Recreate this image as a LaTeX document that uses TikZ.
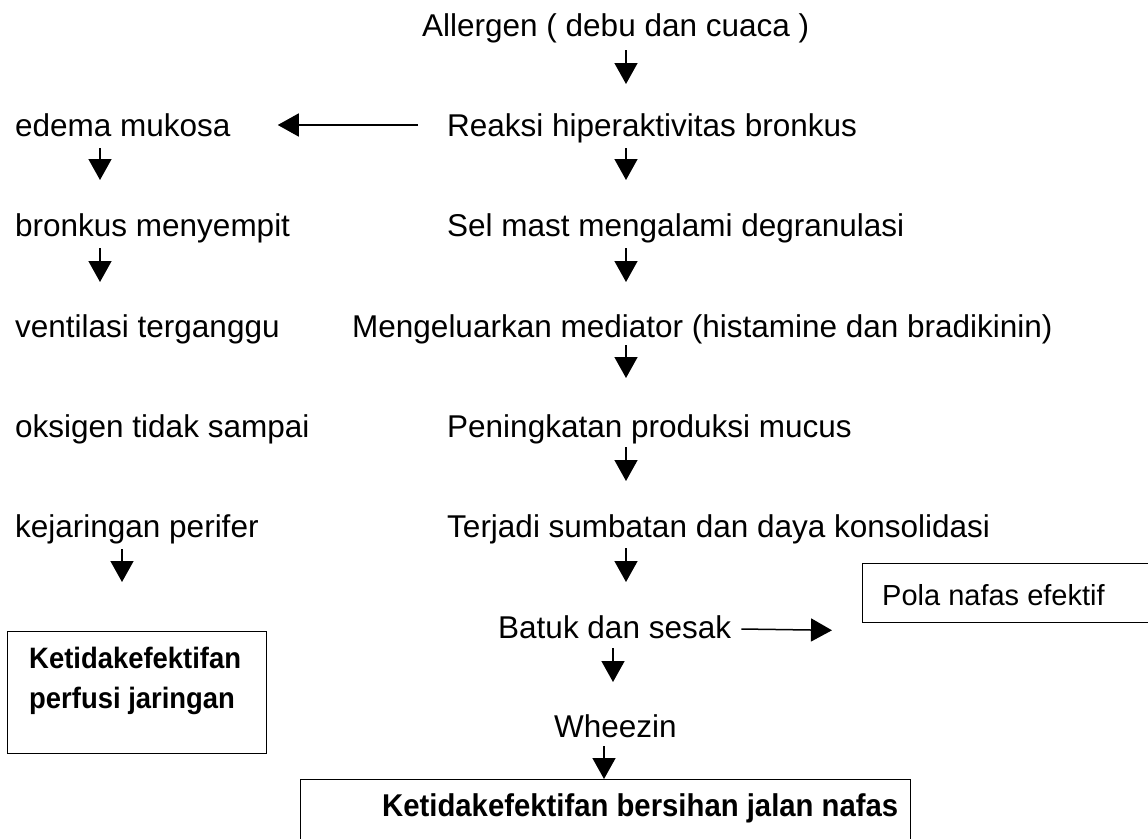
\documentclass[tikz,border=0pt]{standalone}
\usepackage{fontspec}
\setmainfont{Liberation Sans}
\newfontfamily\medfont[FakeStretch=0.93]{Liberation Sans Bold}
\usetikzlibrary{arrows.meta}
\tikzset{
  txt/.style={anchor=base west, inner sep=0pt, font=\fontsize{31.5}{40}\selectfont},
  btxt/.style={anchor=base west, inner sep=0pt, font=\medfont\fontsize{31.5}{40}\selectfont},
  frame/.style={draw, line width=1.3pt, inner sep=0pt},
  arr/.style={line width=1.5pt, -{Triangle[length=21pt, width=23pt]}}
}
\begin{document}
\begin{tikzpicture}[x=1pt, y=-1pt]
\useasboundingbox (0,0) rectangle (1148,838);
\clip (0,0) rectangle (1148,838);
% column coordinates for the arrows
\coordinate (colM) at (626,0);
\coordinate (colL) at (100,0);
\coordinate (colK) at (122,0);
\coordinate (colB) at (613,0);
\coordinate (colW) at (604,0);
% main column
\node[txt] (allergen) at (422,36) {Allergen ( debu dan cuaca )};
\node[txt] (reaksi) at (447,136) {Reaksi hiperaktivitas bronkus};
\node[txt] (sel) at (447,236) {Sel mast mengalami degranulasi};
\node[txt] (mediator) at (352,337) {Mengeluarkan mediator (histamine dan bradikinin)};
\node[txt] (mucus) at (447,437) {Peningkatan produksi mucus};
\node[txt] (sumbatan) at (447,537) {Terjadi sumbatan dan daya konsolidasi};
\node[txt] (batuk) at (498,638) {Batuk dan sesak};
\node[txt] (wheezin) at (554,737) {Wheezin};
% left column
\node[txt] (edema) at (15,136) {edema mukosa};
\node[txt] (bronkus) at (15,236) {bronkus menyempit};
\node[txt] (ventilasi) at (15,337) {ventilasi terganggu};
\node[txt] (oksigen) at (15,437) {oksigen tidak sampai};
\node[txt] (perifer) at (15,537) {kejaringan perifer};
% boxes
\node[frame, anchor=north west, minimum width=259pt, minimum height=122pt] (perfbox) at (7,631) {};
\node[btxt, anchor=north west, align=left, font=\medfont\fontsize{29.5}{40}\selectfont] (perftext) at (29,647) {Ketidakefektifan\\perfusi jaringan};
\node[frame, anchor=north west, minimum width=300pt, minimum height=59pt] (polabox) at (862,563) {};
\node[txt, font=\fontsize{29}{36}\selectfont] (polatext) at (882,605) {Pola nafas efektif};
\node[frame, anchor=north west, minimum width=610pt, minimum height=90pt] (bbox) at (300,779) {};
\node[btxt] (btext) at (382,816) {Ketidakefektifan bersihan jalan nafas};
% vertical arrows, main column
\draw[arr] ([yshift=-14pt]allergen.base -| colM) -- ([yshift=52pt]reaksi.base -| colM);
\draw[arr] ([yshift=-12pt]reaksi.base -| colM) -- ([yshift=56pt]sel.base -| colM);
\draw[arr] ([yshift=-12pt]sel.base -| colM) -- ([yshift=55pt]mediator.base -| colM);
\draw[arr] ([yshift=-8pt]mediator.base -| colM) -- ([yshift=59pt]mucus.base -| colM);
\draw[arr] ([yshift=-10pt]mucus.base -| colM) -- ([yshift=56pt]sumbatan.base -| colM);
\draw[arr] ([yshift=-11pt]sumbatan.base -| colM) -- ([yshift=56pt]batuk.base -| colM);
\draw[arr] ([yshift=-10pt]batuk.base -| colB) -- ([yshift=55pt]wheezin.base -| colB);
\draw[arr] ([yshift=-9pt]wheezin.base -| colW) -- (bbox.north -| colW);
% vertical arrows, left column
\draw[arr] ([yshift=-12pt]edema.base -| colL) -- ([yshift=56pt]bronkus.base -| colL);
\draw[arr] ([yshift=-12pt]bronkus.base -| colL) -- ([yshift=55pt]ventilasi.base -| colL);
\draw[arr] ([yshift=-12pt]perifer.base -| colK) -- ([yshift=49pt]perfbox.north -| colK);
% horizontal arrows
\draw[arr] ([xshift=-29pt, yshift=11pt]reaksi.base west) -- ([xshift=47pt, yshift=11pt]edema.base east);
\draw[arr] ([xshift=10pt, yshift=9pt]batuk.base east) -- ([xshift=-30pt, yshift=-7pt]polabox.south west);
\end{tikzpicture}
\end{document}
